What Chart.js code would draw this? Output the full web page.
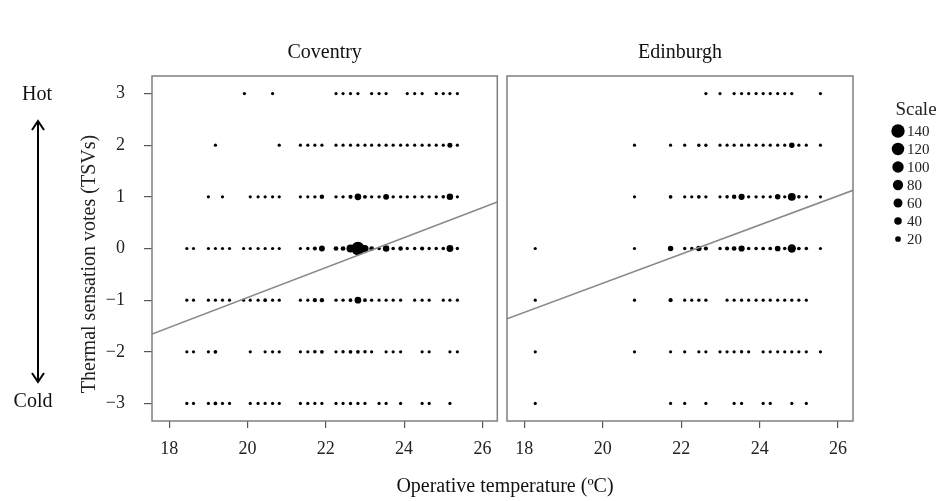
<!DOCTYPE html>
<html>
<head>
<meta charset="utf-8">
<script src="https://cdn.jsdelivr.net/npm/chart.js@4.4.0/dist/chart.umd.min.js"></script>
<style>
  body { margin: 0; background: #fff; }
  #wrap { position: relative; width: 939px; height: 501px; background: #fff; overflow: hidden; }
  canvas { position: absolute; top: 0; }
  #cov { left: 0; }
  #edi { left: 500px; }
  #xtitle { position: absolute; left: 355px; width: 300px; top: 474px; text-align: center;
            font: 20px "Liberation Serif", serif; color: #111; }
</style>
</head>
<body>
<div id="wrap">
  <canvas id="cov" width="504" height="501"></canvas>
  <canvas id="edi" width="439" height="501"></canvas>
  <div id="xtitle">Operative temperature (ºC)</div>
</div>
<script>
// ---------- Datos ----------
const votes = [3, 2, 1, 0, -1, -2, -3];
const xTicks = [18, 20, 22, 24, 26];
const yTicks = [-3, -2, -1, 0, 1, 2, 3];
const scaleLegend = [140, 120, 100, 80, 60, 40, 20];

// temperatura por fila de voto (3 ... -3)
const covTemps = [
  [19.92, 20.64, 22.26, 22.44, 22.63, 22.82, 23.17, 23.36, 23.54, 24.08, 24.27, 24.46, 24.82, 25.0, 25.17, 25.36],
  [19.18, 20.81, 21.35, 21.54, 21.72, 21.90, 22.26, 22.44, 22.63, 22.82, 23.0, 23.17, 23.36, 23.54, 23.72, 23.91, 24.08, 24.27, 24.46, 24.64, 24.82, 25.0, 25.17, 25.36],
  [19.0, 19.36, 20.07, 20.27, 20.45, 20.64, 20.81, 21.35, 21.54, 21.72, 21.90, 22.26, 22.44, 22.63, 22.82, 23.0, 23.17, 23.36, 23.54, 23.72, 23.91, 24.08, 24.27, 24.46, 24.64, 24.82, 25.0, 25.17, 25.36],
  [18.45, 18.62, 19.0, 19.18, 19.36, 19.54, 19.9, 20.07, 20.27, 20.45, 20.64, 20.81, 21.35, 21.54, 21.72, 21.90, 22.26, 22.44, 22.63, 22.82, 23.0, 23.17, 23.36, 23.54, 23.72, 23.91, 24.08, 24.27, 24.46, 24.64, 24.82, 25.0, 25.17, 25.36],
  [18.45, 18.62, 19.0, 19.18, 19.36, 19.54, 19.9, 20.07, 20.27, 20.45, 20.64, 20.81, 21.35, 21.54, 21.72, 21.90, 22.26, 22.44, 22.63, 22.82, 23.0, 23.17, 23.36, 23.54, 23.72, 23.91, 24.27, 24.46, 24.64, 25.0, 25.17, 25.36],
  [18.45, 18.62, 19.0, 19.18, 20.07, 20.45, 20.64, 20.81, 21.35, 21.54, 21.72, 21.90, 22.26, 22.44, 22.63, 22.82, 23.0, 23.17, 23.54, 23.72, 23.91, 24.46, 24.64, 25.17, 25.36],
  [18.45, 18.62, 19.0, 19.18, 19.36, 19.54, 20.07, 20.27, 20.45, 20.64, 20.81, 21.35, 21.54, 21.72, 21.90, 22.26, 22.44, 22.63, 22.82, 23.0, 23.36, 23.54, 23.91, 24.46, 24.64, 25.17]
];
const covCounts = [
  [2, 2, 2, 2, 2, 2, 2, 2, 2, 2, 2, 2, 2, 2, 2, 2],
  [2, 2, 2, 2, 2, 2, 2, 2, 2, 2, 2, 2, 2, 2, 2, 2, 2, 2, 2, 2, 2, 2, 14, 2],
  [2, 2, 2, 2, 2, 2, 2, 2, 2, 3, 10, 3, 3, 8, 30, 6, 3, 3, 22, 3, 3, 3, 3, 3, 3, 3, 4, 28, 2],
  [2, 2, 2, 2, 2, 2, 2, 2, 2, 2, 2, 2, 2, 3, 8, 22, 12, 12, 45, 140, 35, 12, 4, 28, 4, 10, 3, 3, 8, 3, 3, 4, 32, 3],
  [2, 2, 2, 2, 2, 2, 2, 2, 2, 5, 2, 2, 2, 2, 8, 9, 3, 3, 5, 30, 5, 3, 2, 2, 2, 2, 2, 2, 2, 2, 2, 2],
  [2, 2, 2, 5, 2, 2, 2, 2, 2, 2, 4, 5, 2, 3, 5, 5, 3, 2, 2, 2, 2, 2, 2, 2, 2],
  [2, 2, 2, 5, 2, 2, 2, 2, 2, 2, 2, 2, 2, 2, 2, 2, 2, 3, 2, 2, 2, 2, 2, 2, 2, 2]
];

const ediTemps = [
  [22.63, 22.99, 23.35, 23.54, 23.72, 23.91, 24.09, 24.27, 24.46, 24.64, 24.82, 25.55],
  [20.81, 21.73, 22.09, 22.45, 22.63, 22.99, 23.17, 23.35, 23.54, 23.72, 23.91, 24.09, 24.27, 24.46, 24.64, 24.82, 25.0, 25.19, 25.55],
  [20.81, 21.73, 22.09, 22.27, 22.45, 22.63, 22.99, 23.17, 23.35, 23.54, 23.72, 23.91, 24.09, 24.27, 24.46, 24.64, 24.82, 25.0, 25.19, 25.55],
  [18.28, 20.81, 21.73, 22.09, 22.27, 22.45, 22.63, 22.99, 23.17, 23.35, 23.54, 23.72, 23.91, 24.09, 24.27, 24.46, 24.64, 24.82, 25.0, 25.19, 25.55],
  [18.28, 20.81, 21.73, 22.09, 22.27, 22.45, 22.63, 23.17, 23.35, 23.54, 23.72, 23.91, 24.09, 24.27, 24.46, 24.64, 24.82, 25.0, 25.19],
  [18.28, 20.81, 21.73, 22.09, 22.45, 22.63, 22.99, 23.17, 23.35, 23.54, 23.72, 24.09, 24.27, 24.46, 24.64, 24.82, 25.0, 25.19, 25.55],
  [18.28, 21.73, 22.09, 22.63, 23.35, 23.54, 24.09, 24.27, 24.82, 25.19]
];
const ediCounts = [
  [2, 2, 2, 2, 2, 2, 2, 2, 2, 2, 2, 2],
  [2, 2, 2, 3, 3, 2, 2, 2, 2, 2, 2, 2, 2, 2, 2, 18, 2, 2, 2],
  [2, 5, 2, 2, 5, 3, 2, 4, 10, 25, 3, 3, 3, 3, 18, 3, 45, 4, 3, 2],
  [2, 2, 18, 3, 3, 18, 8, 3, 8, 12, 25, 4, 4, 5, 5, 20, 4, 50, 5, 4, 2],
  [2, 2, 8, 2, 2, 3, 3, 2, 2, 2, 2, 2, 2, 2, 2, 2, 2, 2, 2],
  [2, 2, 2, 2, 2, 2, 2, 2, 2, 3, 2, 2, 2, 2, 2, 2, 2, 2, 2],
  [2, 2, 2, 2, 2, 2, 2, 2, 2, 2]
];

// recta de regresión: [intercepto, pendiente]
const covFit = [-6.75, 0.29];
const ediFit = [-6.312, 0.282];

const xMin = 17.56, xMax = 26.38;
const yMin = -3.34, yMax = 3.34;

// ---------- Utilidades ----------
const serif = '"Liberation Serif", "DejaVu Serif", serif';
Chart.defaults.font.family = serif;

function radio(n) {
  return Math.sqrt(1.94 + 0.307 * n);
}

function menos(v) {
  return v < 0 ? '\u2212' + Math.abs(v) : String(v);
}

const cajaPlugin = {
  id: 'caja',
  afterDatasetsDraw(chart) {
    const a = chart.chartArea;
    const ctx = chart.ctx;
    ctx.save();
    ctx.strokeStyle = '#7f7f7f';
    ctx.lineWidth = 1.5;
    ctx.strokeRect(a.left, a.top, a.right - a.left, a.bottom - a.top);
    ctx.fillStyle = '#111';
    ctx.font = '20px ' + serif;
    ctx.textAlign = 'center';
    ctx.textBaseline = 'middle';
    ctx.fillText(chart.options.plugins.caja.titulo, (a.left + a.right) / 2, 53);
    ctx.restore();
  }
};

const ejeYPlugin = {
  id: 'ejeY',
  afterDraw(chart) {
    const ctx = chart.ctx;
    ctx.save();
    ctx.fillStyle = '#111';
    ctx.font = '20px ' + serif;
    ctx.textAlign = 'center';
    ctx.textBaseline = 'middle';
    ctx.fillText('Hot', 37, 95);
    ctx.fillText('Cold', 33, 402);

    // flecha doble
    ctx.strokeStyle = '#000';
    ctx.lineWidth = 2;
    ctx.beginPath();
    ctx.moveTo(38, 121); ctx.lineTo(38, 382);
    ctx.moveTo(32, 130); ctx.lineTo(38, 121); ctx.lineTo(44, 130);
    ctx.moveTo(32, 373); ctx.lineTo(38, 382); ctx.lineTo(44, 373);
    ctx.stroke();

    ctx.translate(90, 264);
    ctx.rotate(-Math.PI / 2);
    ctx.fillStyle = '#222';
    ctx.fillText('Thermal sensation votes (TSVs)', 0, 0);
    ctx.restore();
  }
};

const leyendaPlugin = {
  id: 'leyenda',
  afterDraw(chart) {
    const ctx = chart.ctx;
    const ox = -500;
    ctx.save();
    ctx.fillStyle = '#222';
    ctx.font = '19px ' + serif;
    ctx.textAlign = 'center';
    ctx.textBaseline = 'middle';
    ctx.fillText('Scale', 916 + ox, 110);
    ctx.font = '15px ' + serif;
    ctx.textAlign = 'left';
    scaleLegend.forEach((n, i) => {
      const y = 131 + i * 18;
      ctx.fillStyle = '#000';
      ctx.beginPath();
      ctx.arc(898 + ox, y, radio(n), 0, Math.PI * 2);
      ctx.fill();
      ctx.fillStyle = '#222';
      ctx.fillText(String(n), 907 + ox, y + 1);
    });
    ctx.restore();
  }
};

// ---------- Paneles ----------
function panel(id, titulo, temps, counts, fit, conEjeY, padding, extra) {
  const puntos = [];
  const tam = [];
  temps.forEach((fila, i) => {
    fila.forEach((t, j) => {
      puntos.push({ x: t, y: votes[i] });
      tam.push(counts[i][j]);
    });
  });

  const recta = [
    { x: xMin, y: fit[0] + fit[1] * xMin },
    { x: xMax, y: fit[0] + fit[1] * xMax }
  ];

  return new Chart(document.getElementById(id), {
    type: 'scatter',
    data: {
      datasets: [
        {
          type: 'line',
          data: recta,
          borderColor: '#8a8a8a',
          borderWidth: 1.6,
          pointRadius: 0,
          fill: false
        },
        {
          data: puntos,
          pointRadius: ctx => radio(tam[ctx.dataIndex]),
          pointBackgroundColor: '#000',
          pointBorderWidth: 0,
          pointHoverRadius: ctx => radio(tam[ctx.dataIndex])
        }
      ]
    },
    options: {
      responsive: false,
      animation: false,
      events: [],
      layout: { padding: padding },
      plugins: {
        legend: { display: false },
        tooltip: { enabled: false },
        caja: { titulo: titulo }
      },
      scales: {
        x: {
          type: 'linear',
          min: xMin,
          max: xMax,
          afterBuildTicks: s => { s.ticks = xTicks.map(v => ({ value: v })); },
          afterFit: s => { s.height = 80; },
          border: { display: false },
          grid: { drawOnChartArea: false, tickLength: 7, color: '#555', lineWidth: 1.2 },
          ticks: { font: { size: 18 }, color: '#222', padding: 10, maxRotation: 0 }
        },
        y: {
          type: 'linear',
          min: yMin,
          max: yMax,
          display: conEjeY,
          afterBuildTicks: s => { s.ticks = yTicks.map(v => ({ value: v })); },
          afterFit: s => { if (conEjeY) s.width = 152; },
          border: { display: false },
          grid: { drawOnChartArea: false, tickLength: 8, color: '#555', lineWidth: 1.2 },
          ticks: { font: { size: 18 }, color: '#222', padding: 19, callback: v => menos(v) }
        }
      }
    },
    plugins: [cajaPlugin].concat(extra)
  });
}

panel('cov', 'Coventry', covTemps, covCounts, covFit, true,
  { top: 76, right: 1, bottom: 0, left: 0 }, [ejeYPlugin]);
panel('edi', 'Edinburgh', ediTemps, ediCounts, ediFit, false,
  { top: 76, right: 86, bottom: 0, left: 7 }, [leyendaPlugin]);
</script>
</body>
</html>
